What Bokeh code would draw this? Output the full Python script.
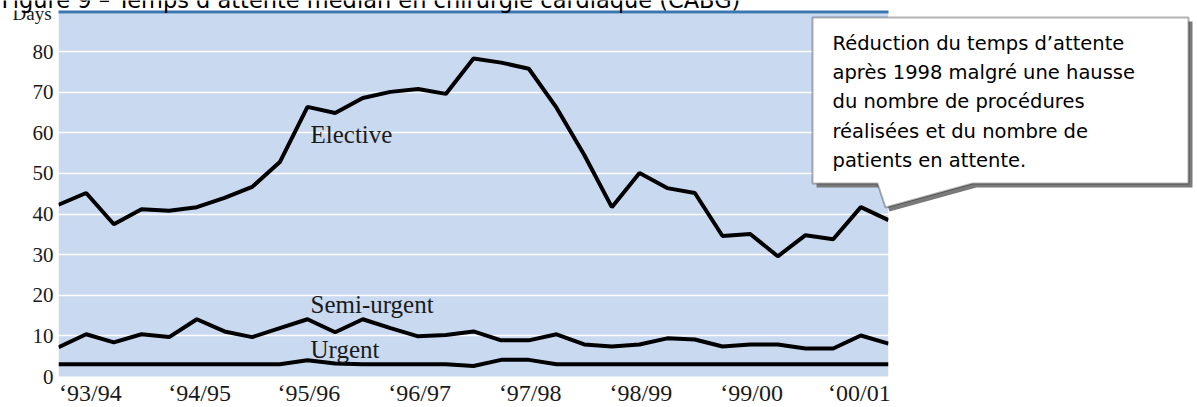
from bokeh.plotting import figure
from bokeh.models import Range1d, Label, PolyAnnotation, FixedTicker, BoxAnnotation
from bokeh.embed import file_html
from bokeh.resources import INLINE

# ---- data (quarterly median waiting time, days) ----
quarter = list(range(31))
elective = [42.3, 45.2, 37.5, 41.2, 40.8, 41.7, 44.0, 46.7, 52.8, 66.4,
            64.9, 68.6, 70.1, 70.8, 69.6, 78.3, 77.3, 75.8, 66.2, 54.6,
            41.7, 50.1, 46.4, 45.2, 34.6, 35.1, 29.6, 34.8, 33.8, 41.7, 38.5]
semi_urgent = [7.2, 10.4, 8.4, 10.4, 9.7, 14.1, 11.1, 9.7, 11.9, 14.1,
               10.9, 14.1, 11.9, 9.9, 10.2, 11.1, 8.9, 8.9, 10.4, 7.9,
               7.4, 7.9, 9.4, 9.1, 7.4, 7.9, 7.9, 6.9, 6.9, 10.1, 8.1]
urgent = [3.0, 3.0, 3.0, 3.0, 3.0, 3.0, 3.0, 3.0, 3.0, 4.0,
          3.2, 3.0, 3.0, 3.0, 3.0, 2.6, 4.1, 4.1, 3.0, 3.0,
          3.0, 3.0, 3.0, 3.0, 3.0, 3.0, 3.0, 3.0, 3.0, 3.0, 3.0]
year_ticks = [1.15, 5.1, 9.05, 13.05, 17.05, 21.05, 25.05, 28.95]
year_labels = ["‘93/94", "‘94/95", "‘95/96", "‘96/97", "‘97/98", "‘98/99", "‘99/00", "‘00/01"]
y_ticks = [0, 10, 20, 30, 40, 50, 60, 70, 80]
grid_ticks = [10, 20, 30, 40, 50, 60, 70, 80]
title_text = "Figure 9 – Temps d’attente médian en chirurgie cardiaque (CABG)"
series_names = ["Elective", "Semi-urgent", "Urgent"]
note_lines = ["Réduction du temps d’attente",
              "après 1998 malgré une hausse",
              "du nombre de procédures",
              "réalisées et du nombre de",
              "patients en attente."]

# ---- layout (chart area in pixels) ----
W, H = 1197, 407
FL, FR, FT, FB = 58, 888, 13, 376
X0, X1 = 0, 30
Y0, Y1 = 0, 89.4
SHIFT = 8  # compensation for the text baseline placement


def xd(px):
    return X0 + (px - FL) / (FR - FL) * (X1 - X0)


def yd(py):
    return Y0 + (FB - py) / (FB - FT) * (Y1 - Y0)


def ybase(py):
    return yd(py - SHIFT)


p = figure(width=W, height=H, x_range=Range1d(xd(0), xd(W)), y_range=Range1d(yd(H), yd(0)),
           output_backend="svg", toolbar_location=None,
           min_border=0, min_border_left=0, min_border_right=0,
           min_border_top=0, min_border_bottom=0)
p.outline_line_color = None
p.background_fill_color = "white"
p.border_fill_color = "white"

# blue chart area
p.add_layout(BoxAnnotation(left=X0, right=X1, bottom=Y0, top=Y1, fill_color="#c9d9f0",
                           fill_alpha=1, line_color=None, level="image"))

p.xgrid.visible = False
p.ygrid.ticker = FixedTicker(ticks=grid_ticks)
p.ygrid.grid_line_color = "white"
p.ygrid.grid_line_width = 1.3

# white masks beside the chart area (grid lines span the whole frame)
p.add_layout(BoxAnnotation(right=X0, fill_color="white", fill_alpha=1, line_color=None, level="glyph"))
p.add_layout(BoxAnnotation(left=X1, fill_color="white", fill_alpha=1, line_color=None, level="glyph"))

serif = "Liberation Serif"
for ax in (p.xaxis[0], p.yaxis[0]):
    ax.axis_line_color = None
    ax.major_tick_line_color = None
    ax.minor_tick_line_color = None
    ax.major_tick_out = 0
    ax.major_tick_in = 0
    ax.minor_tick_out = 0
    ax.major_label_text_font = serif
    ax.major_label_text_color = "#1a1a1a"

p.yaxis.fixed_location = X0
p.yaxis.ticker = FixedTicker(ticks=y_ticks)
p.yaxis.major_label_text_font_size = "21px"
p.yaxis.major_label_standoff = 5
p.xaxis.fixed_location = Y0
p.xaxis.ticker = FixedTicker(ticks=year_ticks)
p.xaxis.major_label_overrides = {t: l for t, l in zip(year_ticks, year_labels)}
p.xaxis.major_label_text_font_size = "24px"
p.xaxis.major_label_standoff = 3

for ser in (elective, semi_urgent, urgent):
    p.line(quarter, ser, line_color="black", line_width=4)

# series labels
for name, (px, py) in zip(series_names, [(310, 142), (310, 312), (310, 357)]):
    p.add_layout(Label(x=xd(px), y=ybase(py), text=name, text_font=serif,
                       text_font_size="25px", text_color="#1a1a1a",
                       text_baseline="alphabetic"))

# axis unit, top band and title
p.add_layout(Label(x=xd(12), y=ybase(21), text="Days", text_font=serif,
                   text_font_size="19px", text_color="#1a1a1a", text_baseline="alphabetic"))
p.add_layout(BoxAnnotation(top=yd(-5), bottom=yd(10), fill_color="white", fill_alpha=1,
                           line_color=None))
p.add_layout(BoxAnnotation(left=X0, right=X1, top=yd(10), bottom=Y1, fill_color="#3a76b0",
                           fill_alpha=1, line_color=None))
p.add_layout(Label(x=xd(1), y=ybase(7), text=title_text, text_font="DejaVu Sans",
                   text_font_size="22.5px", text_color="black", text_baseline="alphabetic"))

# callout
cx = [812, 1188, 1188, 972, 885, 877, 812]
cy = [17, 17, 183, 183, 207, 183, 183]
p.add_layout(PolyAnnotation(xs=[xd(v + 4) for v in cx], ys=[yd(v + 4) for v in cy],
                            fill_color="#7a7a7a", fill_alpha=1, line_color=None))
p.add_layout(PolyAnnotation(xs=[xd(v) for v in cx], ys=[yd(v) for v in cy],
                            fill_color="white", fill_alpha=1, line_color="black",
                            line_width=2))
for i, line in enumerate(note_lines):
    p.add_layout(Label(x=xd(832), y=ybase(51 + 29.2 * i), text=line, text_font="DejaVu Sans",
                       text_font_size="19.5px", text_color="black",
                       text_baseline="alphabetic"))

open("out.html", "w").write(file_html(p, INLINE))
